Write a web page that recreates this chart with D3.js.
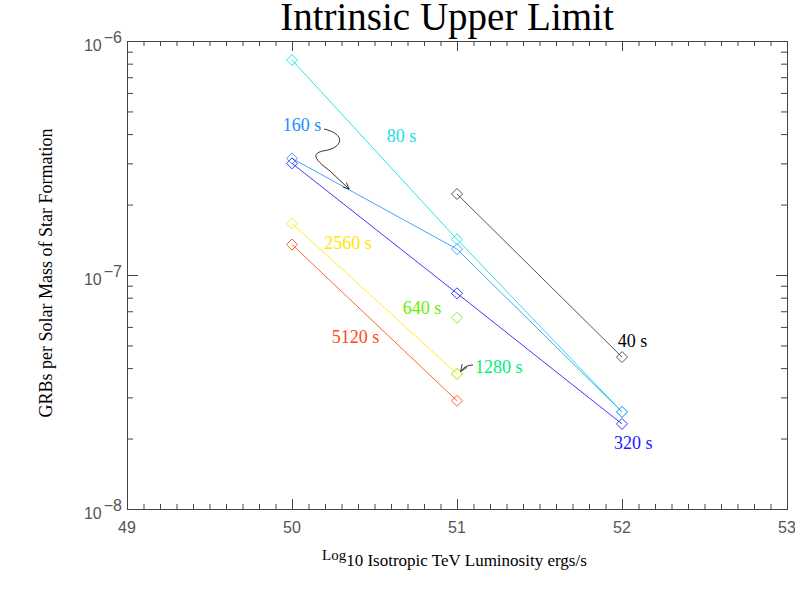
<!DOCTYPE html>
<html><head><meta charset="utf-8">
<script src="https://cdn.jsdelivr.net/npm/d3@7"></script>
<style>body{margin:0;background:#fff}svg{display:block}</style>
</head><body>
<svg id="chart" width="795" height="601"></svg>
<script>
// ---- data ----
const luminosity = [50, 51, 52];
const durations = ["40 s", "80 s", "160 s", "320 s", "640 s", "1280 s", "2560 s", "5120 s"];
const rate40s   = [null,    2.22e-7, 4.46e-8];
const rate80s   = [8.29e-7, 1.42e-7, 2.60e-8];
const rate160s  = [3.15e-7, 1.29e-7, 2.60e-8];
const rate320s  = [3.00e-7, 8.35e-8, 2.31e-8];
const rate640s  = [null,    6.57e-8, null];
const rate1280s = [null,    3.78e-8, null];
const rate2560s = [1.66e-7, 3.78e-8, null];
const rate5120s = [1.35e-7, 2.90e-8, null];
const xTickValues = [49, 50, 51, 52, 53];
const yTickExponents = [-8, -7, -6];

// ---- styling / layout ----
const seriesValues = [rate40s, rate80s, rate160s, rate320s, rate640s, rate1280s, rate2560s, rate5120s];
const lineColors  = ["#555555", "#22e8e8", "#4aa2ff", "#3a3aff", "#88ee44", "#22ee88", "#ffee22", "#ff6633"];
const labelColors = ["#000000", "#19dede", "#1a8cff", "#1a1aff", "#66ee00", "#00ee77", "#ffe600", "#ff4a10"];
// label anchors in data coordinates
const labelPos = [[51.974, 4.94e-8], [50.574, 3.713e-7], [49.944, 4.124e-7], [51.952, 1.81e-8],
                  [50.671, 6.79e-8], [51.109, 3.82e-8], [50.196, 1.291e-7], [50.241, 5.10e-8]];

const svg = d3.select("#chart");
const L = 127, R = 787, T = 41, B = 509;
const x = d3.scaleLinear().domain([49, 53]).range([L, R]);
const y = d3.scaleLog().domain([1e-8, 1e-6]).range([B, T]);

const axisColor = "#444";
const labelFont = "'Liberation Serif','Times New Roman',serif";
const tickFont = "'Liberation Sans','DejaVu Sans',sans-serif";

// minor tick values
const xMinor = d3.range(49, 53.001, 0.1).map(v => +v.toFixed(2)).filter(v => !xTickValues.includes(v));
const yMinor = [];
[-8, -7].forEach(e => { for (let k = 2; k <= 9; k++) yMinor.push(k * Math.pow(10, e)); });
const yMajor = yTickExponents.map(e => Math.pow(10, e));

function styleAxis(g) {
  g.select(".domain").attr("stroke", axisColor).attr("stroke-width", 1);
  g.selectAll(".tick line").attr("stroke", axisColor).attr("stroke-width", 1);
  g.selectAll(".tick text").remove();
}

// bottom & top axes
[[d3.axisBottom, B], [d3.axisTop, T]].forEach(([ax, pos]) => {
  svg.append("g").attr("transform", `translate(0,${pos})`)
    .call(ax(x).tickValues(xMinor).tickSize(-5).tickSizeOuter(0).tickFormat("")).call(styleAxis);
  svg.append("g").attr("transform", `translate(0,${pos})`)
    .call(ax(x).tickValues(xTickValues).tickSize(-10).tickSizeOuter(0).tickFormat("")).call(styleAxis);
});
// left & right axes
[[d3.axisLeft, L], [d3.axisRight, R]].forEach(([ax, pos]) => {
  svg.append("g").attr("transform", `translate(${pos},0)`)
    .call(ax(y).tickValues(yMinor).tickSize(-6).tickSizeOuter(0).tickFormat("")).call(styleAxis);
  svg.append("g").attr("transform", `translate(${pos},0)`)
    .call(ax(y).tickValues(yMajor).tickSize(-11).tickSizeOuter(0).tickFormat("")).call(styleAxis);
});

// x tick labels
svg.append("g").selectAll("text").data(xTickValues).join("text")
  .attr("x", d => x(d)).attr("y", B + 24)
  .attr("text-anchor", "middle")
  .attr("font-family", tickFont).attr("font-size", 16).attr("fill", "#555")
  .text(d => d);

// y tick labels 10^e
const yl = svg.append("g").selectAll("text").data(yTickExponents).join("text")
  .attr("x", L - 5).attr("y", d => y(Math.pow(10, d)) + 10)
  .attr("text-anchor", "end")
  .attr("font-family", tickFont).attr("font-size", 16).attr("fill", "#555");
yl.append("tspan").text("10");
yl.append("tspan").attr("dy", -8).attr("dx", 2).text(d => "\u2212" + Math.abs(d));

// series lines & markers
const lineGen = d3.line().defined(d => d[1] != null).x(d => x(d[0])).y(d => y(d[1]));
seriesValues.forEach((vals, i) => {
  const pts = luminosity.map((l, j) => [l, vals[j]]);
  svg.append("path").datum(pts).attr("d", lineGen)
    .attr("fill", "none").attr("stroke", lineColors[i]).attr("stroke-width", 1);
  svg.append("g").selectAll("path").data(pts.filter(p => p[1] != null)).join("path")
    .attr("transform", p => `translate(${x(p[0])},${y(p[1])})`)
    .attr("d", "M0,-5.5L5.5,0L0,5.5L-5.5,0Z")
    .attr("fill", "none").attr("stroke", lineColors[i]).attr("stroke-width", 1);
});

// series labels
svg.append("g").selectAll("text").data(durations).join("text")
  .attr("x", (d, i) => x(labelPos[i][0])).attr("y", (d, i) => y(labelPos[i][1]))
  .attr("font-family", labelFont).attr("font-size", 18)
  .attr("fill", (d, i) => labelColors[i])
  .text(d => d);

// arrows
const defs = svg.append("defs");
defs.append("marker").attr("id", "ah").attr("viewBox", "0 0 10 10")
  .attr("refX", 9).attr("refY", 5).attr("markerWidth", 7).attr("markerHeight", 7)
  .attr("orient", "auto").attr("markerUnits", "userSpaceOnUse")
  .append("path").attr("d", "M0,1L10,5L0,9").attr("fill", "none").attr("stroke", "#333").attr("stroke-width", 1.3);

svg.append("path")
  .attr("d", "M324,129 C346,134 344,148 323,151 C309,154 318,162 330,171 L349,189")
  .attr("fill", "none").attr("stroke", "#333").attr("stroke-width", 1).attr("marker-end", "url(#ah)");
svg.append("path")
  .attr("d", "M473,365 Q465,365 461,371")
  .attr("fill", "none").attr("stroke", "#333").attr("stroke-width", 1).attr("marker-end", "url(#ah)");

// title
svg.append("text").attr("x", 447).attr("y", 30).attr("text-anchor", "middle")
  .attr("font-family", labelFont).attr("font-size", 39).attr("fill", "#000")
  .text("Intrinsic Upper Limit");

// x axis title
const xt = svg.append("text").attr("x", 322).attr("y", 566)
  .attr("font-family", labelFont).attr("font-size", 17).attr("fill", "#000");
xt.append("tspan").attr("font-size", 15).attr("dy", -6).text("Log");
xt.append("tspan").attr("dy", 6).text("10  Isotropic TeV Luminosity ergs/s");

// y axis title
svg.append("text").attr("transform", "translate(52,273) rotate(-90)")
  .attr("text-anchor", "middle")
  .attr("font-family", labelFont).attr("font-size", 18).attr("fill", "#000")
  .text("GRBs per Solar Mass of Star Formation");
</script>
</body></html>
